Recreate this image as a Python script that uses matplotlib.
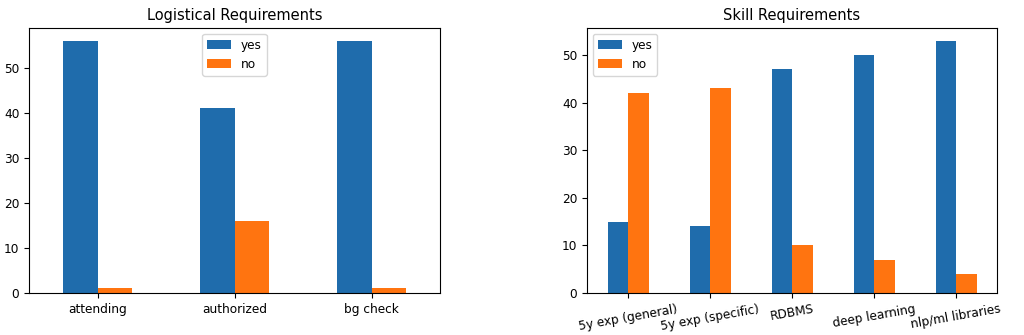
import numpy as np
import matplotlib
matplotlib.use("Agg")
import matplotlib.pyplot as plt

logistic_labels = ["attending", "authorized", "bg check"]
logistic_yes = [56, 41, 56]
logistic_no = [1, 16, 1]

skill_labels = ["5y exp (general)", "5y exp (specific)", "RDBMS", "deep learning", "nlp/ml libraries"]
skill_yes = [15, 14, 47, 50, 53]
skill_no = [42, 43, 10, 7, 4]

plt.rcParams["font.size"] = 8.7


def bar_pair(ax, labels, yes, no, title, legend_loc, rot):
    x = np.arange(len(labels))
    w = 0.25
    ax.bar(x - w / 2, yes, w, color="#1f6cac", label="yes")
    ax.bar(x + w / 2, no, w, color="#ff7410", label="no")
    ax.set_xticks(x)
    ax.set_xticklabels(labels, rotation=rot)
    ax.set_xlim(-0.5, len(labels) - 0.5)
    ax.set_title(title, fontsize=10.5)
    ax.legend(loc=legend_loc)


fig = plt.figure(figsize=(10.24, 3.35), dpi=100)
ax1 = fig.add_axes([29 / 1024, 1 - 293 / 335, 411 / 1024, 265 / 335])
ax2 = fig.add_axes([587 / 1024, 1 - 293 / 335, 410 / 1024, 265 / 335])

bar_pair(ax1, logistic_labels, logistic_yes, logistic_no, "Logistical Requirements", "upper center", 0)
bar_pair(ax2, skill_labels, skill_yes, skill_no, "Skill Requirements", "upper left", 10)

fig.savefig("out.png", dpi=100)
